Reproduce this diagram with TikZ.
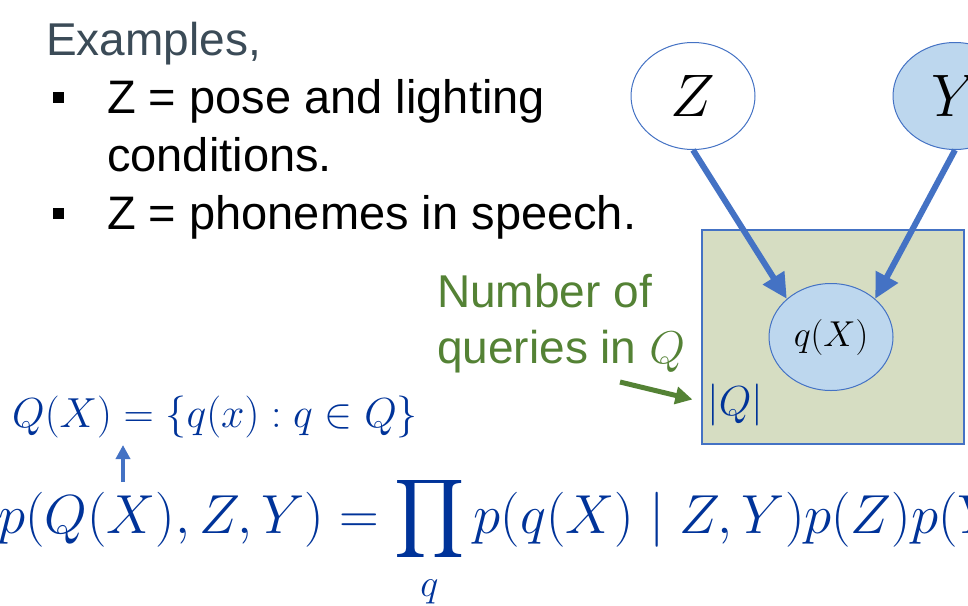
\RequirePackage{fix-cm}
\documentclass[tikz,border=0pt]{standalone}
\usepackage{fontspec}
\setmainfont{Liberation Sans}
\usepackage{amsmath}
\DeclareFontFamily{OMX}{cmex}{}
\DeclareFontShape{OMX}{cmex}{m}{n}{<->s*cmex10}{}
\usepackage{tikz}
\usetikzlibrary{positioning,shapes.geometric,arrows.meta}

\definecolor{edgeblue}{RGB}{68,114,196}
\definecolor{nodefill}{RGB}{189,215,238}
\definecolor{platefill}{RGB}{214,221,194}
\definecolor{notegreen}{RGB}{84,130,53}
\definecolor{headgray}{RGB}{59,75,87}
\definecolor{eqblue}{RGB}{0,51,153}

\begin{document}
\begin{tikzpicture}[
    x=1pt, y=-1pt,
    latent/.style={ellipse, draw=edgeblue, line width=1pt, fill=white, minimum width=124pt, minimum height=107pt, inner sep=0pt, font=\fontsize{60}{60}\selectfont},
    observed/.style={latent, fill=nodefill},
    plate/.style={rectangle, draw=edgeblue, line width=1.5pt, fill=platefill, minimum width=262pt, minimum height=214pt, anchor=north west},
    edge/.style={draw=edgeblue, line width=6pt, -{Triangle[length=25pt,width=24pt]}},
    pointer/.style={draw=notegreen, line width=5pt, -{Triangle[length=17pt,width=17pt]}},
    uparrow/.style={draw=edgeblue, line width=4pt, -{Triangle[length=14pt,width=14pt]}},
    slide/.style={anchor=base west, inner sep=0pt, font=\fontsize{47}{50}\selectfont},
    sqbullet/.style={rectangle, fill=black, minimum size=11pt, inner sep=0pt},
    note/.style={slide, text=notegreen, font=\fontsize{46}{50}\selectfont},
    eq/.style={anchor=base west, inner sep=0pt, text=eqblue}
]
\useasboundingbox (0,0) rectangle (968,605);
\clip (0,0) rectangle (968,605);

% Examples list
\node[slide, text=headgray, font=\fontsize{46}{50}\selectfont] (examples) at (46,55) {Examples,};
\node[sqbullet] (b1) at (58,97) {};
\node[slide] (item1) at (107,113) {Z = pose and lighting};
\node[slide] (item1b) at (107,171) {conditions.};
\node[sqbullet] (b2) at (58,213) {};
\node[slide] (item2) at (107,229) {Z = phonemes in speech.};

% Plate and nodes
\node[plate] (plate) at (701,229) {};
\node[latent] (Z) at (693,96) {$Z$};
\node[observed] (Y) at (955,96) {$Y$};
\node[observed, font=\fontsize{36}{36}\selectfont] (qX) at (831,337) {$q(X)$};
\draw[edge] (Z.south) -- (qX.north west);
\draw[edge] (Y.south) -- (qX.north east);
\node[eq, font=\fontsize{42}{42}\selectfont] (absQ) at (707,415) {$|Q|$};

% Note on plate size
\node[note] (num1) at (437,307) {Number of};
\node[note] (num2) at (437,363) {queries in $Q$};
\coordinate (ptr) at (620,382);
\draw[pointer, shorten >=15pt] (ptr) -- (absQ.west |- 0,403);

% Equations
\node[eq, font=\fontsize{42}{42}\selectfont] (setdef) at (12,427) {$Q(X)=\{q(x) : q\in Q\}$};
\coordinate (upfoot) at (123,482);
\coordinate (uptip) at (123,445);
\draw[uparrow] (upfoot) -- (uptip);
\node[eq, font=\fontsize{55}{55}\selectfont] (joint) at (-2,533) {$\displaystyle p(Q(X),Z,Y)=\prod_q p(q(X)\mid Z,Y)p(Z)p(Y)$};

\end{tikzpicture}
\end{document}
